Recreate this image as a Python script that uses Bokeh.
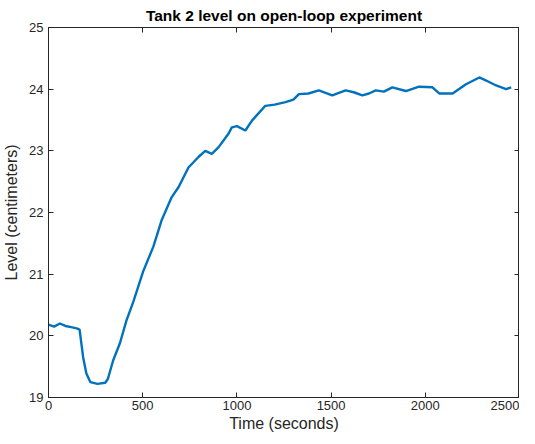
from bokeh.plotting import figure
from bokeh.models import Range1d, LinearAxis, FixedTicker, Title
from bokeh.embed import file_html
from bokeh.resources import INLINE

# Data
time_s = [0, 30, 60, 90, 120, 150, 165, 184, 201, 222, 260, 301, 315,
          343, 379, 414, 450, 503, 557, 601, 654, 690, 743, 796, 832,
          867, 903, 956, 973, 1000, 1045, 1080, 1151, 1200, 1258, 1300, 1329,
          1380, 1435, 1506, 1577, 1620, 1666, 1701, 1737, 1780, 1825, 1897, 1967,
          2038, 2074, 2145, 2216, 2287, 2323, 2376, 2429, 2456]
level_cm = [20.18, 20.15, 20.2, 20.16, 20.14, 20.12, 20.1, 19.65, 19.39, 19.25, 19.22, 19.24, 19.3,
            19.6, 19.88, 20.25, 20.55, 21.05, 21.45, 21.88, 22.25, 22.41, 22.73, 22.9, 23.0,
            22.95, 23.06, 23.28, 23.38, 23.4, 23.33, 23.49, 23.73, 23.75, 23.79, 23.83, 23.92,
            23.93, 23.98, 23.9, 23.98, 23.95, 23.9, 23.93, 23.98, 23.96, 24.03, 23.97, 24.04,
            24.03, 23.93, 23.93, 24.08, 24.19, 24.14, 24.06, 24.0, 24.03]
x_ticks = [0, 500, 1000, 1500, 2000, 2500]
y_ticks = [19, 20, 21, 22, 23, 24, 25]

FONT = "Liberation Sans"
DARK = "#262626"

p = figure(width=519, height=436, output_backend="svg", toolbar_location=None,
           x_range=Range1d(0, 2500), y_range=Range1d(19, 25),
           min_border_left=44, min_border_right=0, min_border_top=27, min_border_bottom=39,
           x_axis_label="Time (seconds)", y_axis_label="Level (centimeters)")
p.title = Title(text="Tank 2 level on open-loop experiment", align="center",
                text_font=FONT, text_font_size="15.5px", text_font_style="bold",
                text_color="black", standoff=7)
p.grid.visible = False
p.outline_line_color = DARK
p.background_fill_color = "white"
p.border_fill_color = "white"

p.line(time_s, level_cm, line_color="#0072BD", line_width=2.4)

bottom = p.xaxis[0]
left = p.yaxis[0]
bottom.ticker = FixedTicker(ticks=x_ticks)
left.ticker = FixedTicker(ticks=y_ticks)

top = LinearAxis(ticker=FixedTicker(ticks=x_ticks),
                 major_label_overrides={t: "" for t in x_ticks},
                 major_label_standoff=0)
right = LinearAxis(ticker=FixedTicker(ticks=y_ticks),
                   major_label_overrides={t: "" for t in y_ticks},
                   major_label_standoff=0)
p.add_layout(top, "above")
p.add_layout(right, "right")

for ax in [bottom, left, top, right]:
    ax.axis_line_color = DARK
    ax.major_tick_line_color = DARK
    ax.major_tick_in = 5
    ax.major_tick_out = 0
    ax.minor_tick_line_color = None
    ax.major_label_text_font = FONT
    ax.major_label_text_color = DARK
    ax.axis_label_text_font = FONT
    ax.axis_label_text_color = DARK
    ax.axis_label_text_font_style = "normal"

for ax in [bottom, left]:
    ax.major_label_text_font_size = "13px"
    ax.axis_label_text_font_size = "16px"
bottom.major_label_standoff = 3
bottom.axis_label_standoff = 2
left.major_label_standoff = 5
left.axis_label_standoff = 6

open("out.html", "w").write(file_html(p, INLINE))
